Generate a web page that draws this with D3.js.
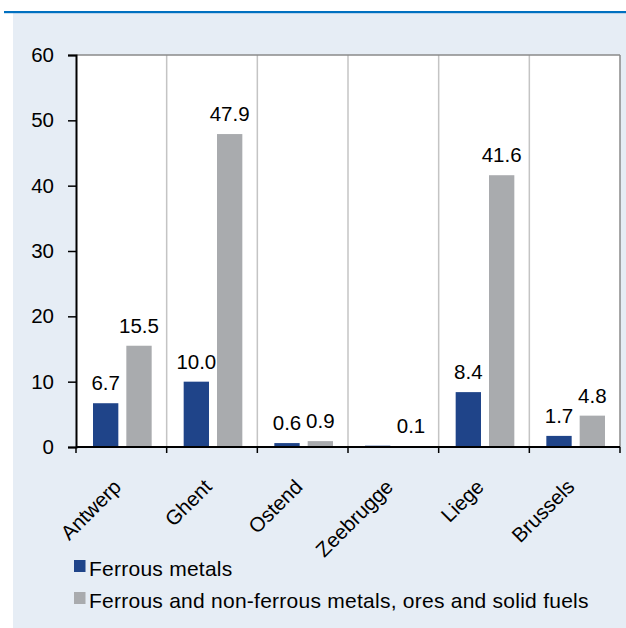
<!DOCTYPE html>
<html>
<head>
<meta charset="utf-8">
<script src="https://cdn.jsdelivr.net/npm/d3@7"></script>
<style>
  html, body { margin: 0; padding: 0; background: #ffffff; }
  svg { display: block; font-family: "Liberation Sans", Arial, sans-serif; }
</style>
</head>
<body>
<svg id="chart" width="626" height="628"></svg>
<script>
const categories = ["Antwerp", "Ghent", "Ostend", "Zeebrugge", "Liege", "Brussels"];
const seriesNames = ["Ferrous metals", "Ferrous and non-ferrous metals, ores and solid fuels"];
const ferrousValues = [6.7, 10.0, 0.6, 0.2, 8.4, 1.7];
const ferrousLabelShown = [true, true, true, false, true, true];
const allMetalsValues = [15.5, 47.9, 0.9, 0.1, 41.6, 4.8];
const allMetalsLabelShown = [true, true, true, true, true, true];
const yTicks = [0, 10, 20, 30, 40, 50, 60];
const seriesColors = ["#1f4489", "#a9abae"];

const FS = 20.5;
const svg = d3.select("#chart");
const W = 626, H = 628;

// frame
svg.append("rect").attr("x", 13).attr("y", 13).attr("width", W - 13).attr("height", H - 13).attr("fill", "#e6edf5");
svg.append("rect").attr("x", 4).attr("y", 11).attr("width", W - 4).attr("height", 2.2).attr("fill", "#0070c0");

const plot = { left: 76, right: 620, top: 55, bottom: 447 };

const x = d3.scaleBand().domain(categories).range([plot.left, plot.right]).paddingInner(0).paddingOuter(0);
const inner = d3.scaleBand().domain([0, 1]).range([17, x.bandwidth() - 15]).paddingInner(0.24);
const y = d3.scaleLinear().domain([0, 60]).range([plot.bottom, plot.top]);

// plot background
svg.append("rect").attr("x", plot.left).attr("y", plot.top)
  .attr("width", plot.right - plot.left).attr("height", plot.bottom - plot.top).attr("fill", "#ffffff");

// vertical gridlines at category boundaries
const boundaries = categories.slice(1).map(c => x(c));
svg.append("g").selectAll("line").data(boundaries).join("line")
  .attr("x1", d => d).attr("x2", d => d)
  .attr("y1", plot.top).attr("y2", plot.bottom)
  .attr("stroke", "#c4c4c4").attr("stroke-width", 1.5);

// top and right border
svg.append("line").attr("x1", plot.left).attr("x2", plot.right).attr("y1", plot.top).attr("y2", plot.top)
  .attr("stroke", "#8a8a8a").attr("stroke-width", 1.5);
svg.append("line").attr("x1", plot.right).attr("x2", plot.right).attr("y1", plot.top).attr("y2", plot.bottom)
  .attr("stroke", "#8a8a8a").attr("stroke-width", 1.5);

// bars
const series = [
  { values: ferrousValues, shown: ferrousLabelShown },
  { values: allMetalsValues, shown: allMetalsLabelShown }
];
series.forEach((s, si) => {
  const g = svg.append("g");
  g.selectAll("rect").data(categories).join("rect")
    .attr("x", (c) => x(c) + inner(si))
    .attr("width", inner.bandwidth())
    .attr("y", (c, i) => y(s.values[i]))
    .attr("height", (c, i) => y(0) - y(s.values[i]))
    .attr("fill", seriesColors[si]);
  g.selectAll("text").data(categories.filter((c, i) => s.shown[i])).join("text")
    .attr("x", c => x(c) + inner(si) + inner.bandwidth() / 2)
    .attr("y", c => y(s.values[categories.indexOf(c)]) - 13)
    .attr("text-anchor", "middle")
    .attr("font-size", FS)
    .attr("fill", "#000")
    .text(c => d3.format(".1f")(s.values[categories.indexOf(c)]));
});

// y axis
const yAxis = d3.axisLeft(y).tickValues(yTicks).tickSize(8).tickPadding(14).tickFormat(d3.format("d"));
const gy = svg.append("g").attr("transform", `translate(${plot.left},0)`).call(yAxis);
gy.select(".domain").attr("stroke", "#000").attr("stroke-width", 2);
gy.selectAll(".tick line").attr("stroke", "#000").attr("stroke-width", 1.5);
gy.selectAll(".tick text").attr("font-size", FS).attr("fill", "#000")
  .attr("font-family", "Liberation Sans, Arial, sans-serif");

// x axis line and ticks at boundaries
svg.append("line").attr("x1", plot.left).attr("x2", plot.right).attr("y1", plot.bottom).attr("y2", plot.bottom)
  .attr("stroke", "#000").attr("stroke-width", 2);
const xTickPos = categories.map(c => x(c)).concat([x(categories[categories.length - 1]) + x.bandwidth()]);
svg.append("g").selectAll("line").data(xTickPos).join("line")
  .attr("x1", d => d).attr("x2", d => d).attr("y1", plot.bottom).attr("y2", plot.bottom + 6)
  .attr("stroke", "#000").attr("stroke-width", 1.5);

// x labels rotated
svg.append("g").selectAll("text").data(categories).join("text")
  .attr("transform", c => `translate(${x(c) + x.bandwidth() / 2 - 4},${plot.bottom + 36}) rotate(-45)`)
  .attr("text-anchor", "end")
  .attr("dy", "0.35em")
  .attr("font-size", FS)
  .attr("fill", "#000")
  .text(c => c);

// legend
const legend = svg.append("g");
seriesNames.forEach((name, i) => {
  const ly = 560 + i * 32;
  legend.append("rect").attr("x", 74).attr("y", ly).attr("width", 11.5).attr("height", 12).attr("fill", seriesColors[i]);
  legend.append("text").attr("x", 89).attr("y", ly + 16).attr("font-size", 21)
    .attr("letter-spacing", 0.25).attr("fill", "#000").text(name);
});
</script>
</body>
</html>
